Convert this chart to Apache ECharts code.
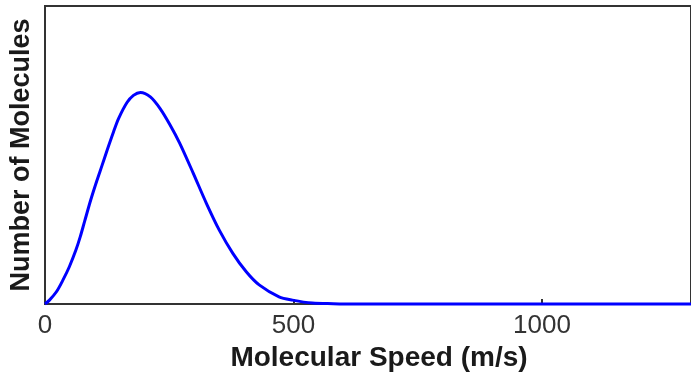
<!DOCTYPE html>
<html>
<head>
<meta charset="utf-8">
<script src="https://cdn.jsdelivr.net/npm/echarts@6/dist/echarts.min.js"></script>
<style>
  html, body { margin: 0; padding: 0; background: #fff; }
  #chart { width: 691px; height: 378px; }
</style>
</head>
<body>
<div id="chart"></div>
<script>
// speeds in m/s, counts in arbitrary units (axis top = 100)
const speeds = [0, 9, 23, 36, 49, 62, 71, 80, 92, 104, 115, 125, 138, 148, 165, 178, 192, 212, 232, 252, 271, 298, 325, 351, 378, 405, 431, 471, 498, 538, 580, 620, 700, 800, 900, 1000, 1100, 1200, 1300];
const counts = [0, 1.3, 4.1, 8.0, 12.5, 18, 22.6, 27.9, 34.9, 41.2, 46.6, 51.6, 57.8, 62.2, 67.6, 70, 71, 69.5, 65.5, 60, 54, 44, 33.7, 24.7, 17, 10.8, 6.4, 2.4, 1.3, 0.3, 0.1, 0, 0, 0, 0, 0, 0, 0, 0];
const xTicks = [0, 500, 1000];

const chart = echarts.init(document.getElementById('chart'), null, { renderer: 'canvas' });

const axisColor = '#333';
const font = '"Liberation Sans", Arial, sans-serif';

chart.setOption({
  animation: false,
  backgroundColor: '#fff',
  grid: {
    left: 44,
    top: 6,
    right: -4,
    bottom: 74,
    show: true,
    borderColor: axisColor,
    borderWidth: 2,
    backgroundColor: 'transparent'
  },
  xAxis: {
    type: 'value',
    min: 0,
    max: 1300,
    interval: 500,
    name: 'Molecular Speed (m/s)',
    nameLocation: 'middle',
    nameGap: 39,
    nameTextStyle: {
      fontFamily: font,
      fontWeight: 'bold',
      fontSize: 28,
      color: '#1a1a1a',
      padding: [0, 0, 0, 22]
    },
    axisLine: { show: true, lineStyle: { color: axisColor, width: 2 } },
    axisTick: { show: true, inside: true, length: 5, lineStyle: { color: axisColor, width: 2 } },
    axisLabel: {
      fontFamily: font,
      fontSize: 26,
      color: '#333',
      margin: 9,
      showMaxLabel: false,
      formatter: (v) => (xTicks.includes(v) ? String(v) : '')
    },
    splitLine: { show: false }
  },
  yAxis: {
    type: 'value',
    min: 0,
    max: 100,
    name: 'Number of Molecules',
    nameLocation: 'middle',
    nameGap: 10,
    nameTextStyle: {
      fontFamily: font,
      fontWeight: 'bold',
      fontSize: 27,
      color: '#1a1a1a'
    },
    axisLine: { show: true, lineStyle: { color: axisColor, width: 2 } },
    axisTick: { show: false },
    axisLabel: { show: false },
    splitLine: { show: false }
  },
  series: [{
    type: 'line',
    data: speeds.map((s, i) => [s, counts[i]]),
    smooth: 0.3,
    showSymbol: false,
    clip: false,
    z: 5,
    lineStyle: { color: '#0000ff', width: 3 }
  }]
});
</script>
</body>
</html>
